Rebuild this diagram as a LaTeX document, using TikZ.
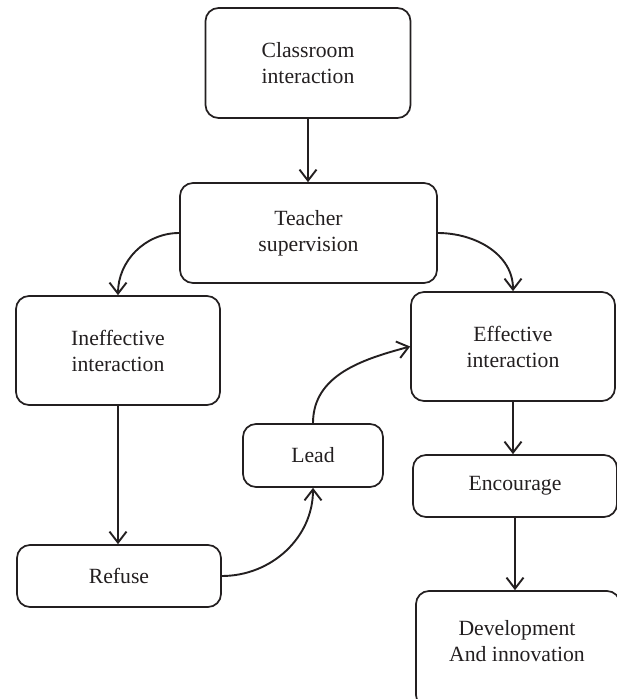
\documentclass[tikz,border=0pt]{standalone}
\usepackage{fontspec}
\setmainfont{Liberation Serif}
\usetikzlibrary{arrows.meta}
\definecolor{ink}{HTML}{231F20}
\begin{document}
\begin{tikzpicture}[x=1pt,y=-1pt,
  box/.style={draw=ink, line width=1.7pt, rounded corners=13pt, inner sep=0pt, align=center, text=ink,
    font=\fontsize{21.7}{26}\selectfont},
  txt/.style={inner sep=0pt, align=center, text=ink, font=\fontsize{21.7}{26}\selectfont},
  conn/.style={draw=ink, line width=1.9pt, -{Straight Barb[length=11pt,width=17pt,line width=1.9pt]}}]
\useasboundingbox (0,0) rectangle (617,699);
\clip (0,0) rectangle (617,699);
\node[box, minimum width=205pt, minimum height=110pt] (cls) at (308,63) {Classroom\\interaction};
\node[box, minimum width=257pt, minimum height=100pt] (tea) at (308.5,233) {Teacher\\supervision};
\node[box, minimum width=204pt, minimum height=109pt] (ine) at (118,350.5) {Ineffective\\interaction};
\node[box, minimum width=204pt, minimum height=109pt] (eff) at (513,346.5) {Effective\\interaction};
\node[box, minimum width=140pt, minimum height=63pt] (lead) at (313,455.5) {Lead};
\node[box, minimum width=204pt, minimum height=62pt] (enc) at (515,486) {Encourage};
\node[box, minimum width=204pt, minimum height=62pt] (ref) at (119,576) {Refuse};
\node[box, minimum width=204pt, minimum height=117pt] (dev) at (518,649.5) {};
\node[txt] (devt) at (517,641) {Development\\And innovation};
\draw[conn] (cls.south) -- (cls.south |- tea.north);
\draw[conn] (tea.west) to[out=180,in=90] (ine.north);
\draw[conn] (tea.east) to[out=0,in=90] (eff.north);
\draw[conn] (ine.south) -- (ine.south |- ref.north);
\draw[conn] (ref.east) to[out=0,in=-90] (lead.south);
\draw[conn] (lead.north) to[out=90,in=195] (eff.west);
\draw[conn] (eff.south) -- (eff.south |- enc.north);
\draw[conn] (enc.south) -- (enc.south |- dev.north);
\end{tikzpicture}
\end{document}
